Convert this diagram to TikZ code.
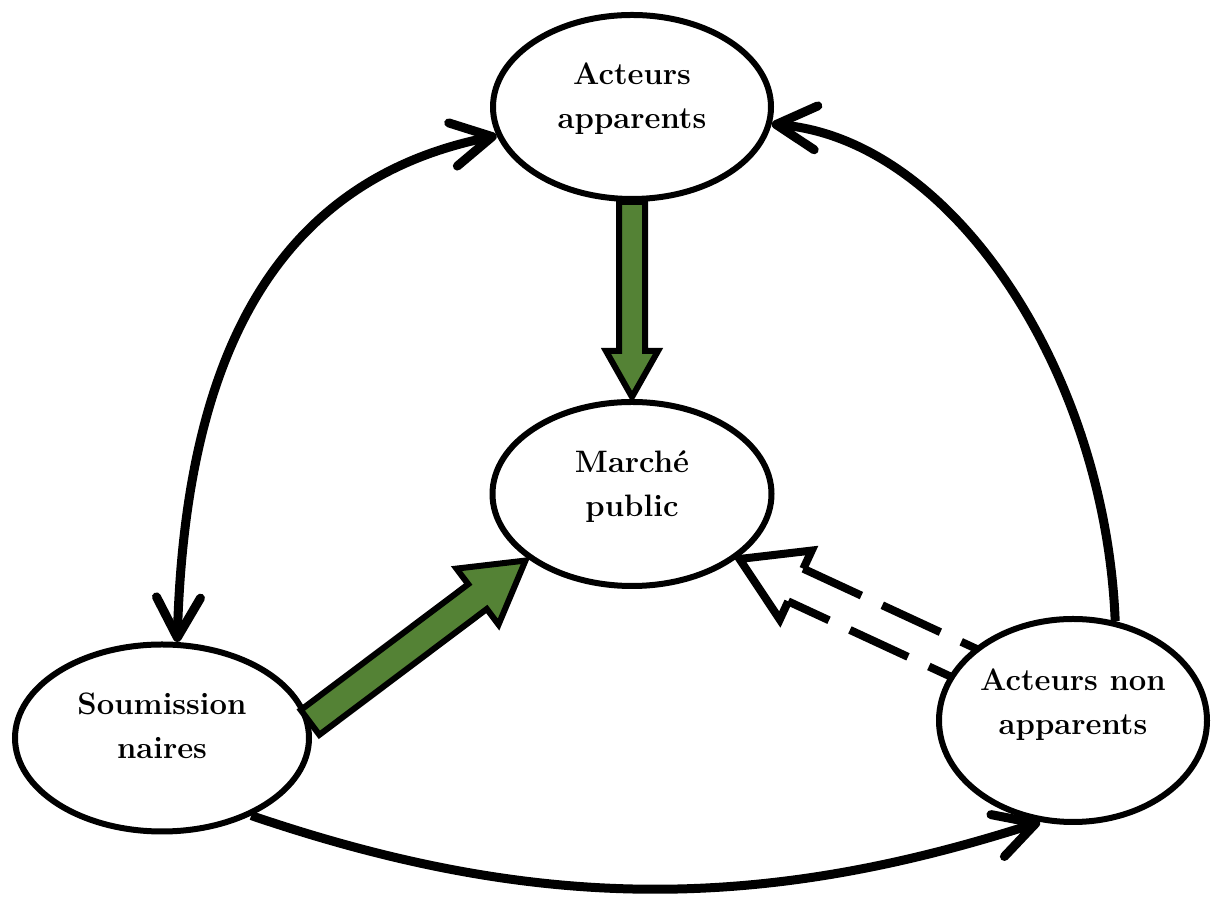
\documentclass[tikz,border=0pt]{standalone}
\usetikzlibrary{calc,arrows.meta,shapes.geometric}
\definecolor{grn}{RGB}{84,130,53}
\pgfdeclarelayer{bg}
\pgfsetlayers{bg,main}
% solid block arrow: #1 name, #2 style, #3 from, #4 to, #5 half shaft, #6 half head, #7 head length
\newcommand\blockarr[7]{%
  \coordinate (#1-h) at ($(#4)!#7!(#3)$);
  \path[#2] ($(#3)!#5!90:(#4)$) -- ($(#1-h)!#5!90:(#4)$) -- ($(#1-h)!#6!90:(#4)$) -- (#4)
    -- ($(#1-h)!#6!-90:(#4)$) -- ($(#1-h)!#5!-90:(#4)$) -- ($(#3)!#5!-90:(#4)$) -- cycle;
}
% hollow dashed block arrow: #1 name, #2 from, #3 to, #4 half shaft, #5 half head, #6 head length
\newcommand\hollowarr[6]{%
  \coordinate (#1-h) at ($(#3)!#6!(#2)$);
  \coordinate (#1-un) at ($(#1-h)!#4!-90:(#3)$);
  \coordinate (#1-ln) at ($(#1-h)!#4!90:(#3)$);
  \draw[darrow] (#1-un) -- ($(#2)!#4!-90:(#3)$);
  \draw[darrow, dash phase=19pt] (#1-ln) -- ($(#2)!#4!90:(#3)$);
  \draw[dhead] (#1-ln) -- ($(#1-h)!#5!90:(#3)$) -- (#3) -- ($(#1-h)!#5!-90:(#3)$) -- (#1-un);
}
\tikzset{
  bub/.style={ellipse, draw, line width=6pt, fill=white, inner sep=0pt, align=center,
    font=\fontsize{31}{44}\selectfont\bfseries},
  conn/.style={line width=9pt},
  barb/.tip={Straight Barb[length=40pt,width=44pt,line cap=round,line join=round]},
  garrow/.style={draw, line width=6pt, fill=grn, line join=miter},
  darrow/.style={line width=8pt, dash pattern=on 64pt off 23pt},
  dhead/.style={line width=8pt, line join=miter},
}
\begin{document}
\begin{tikzpicture}[x=1pt,y=1pt]
\useasboundingbox (0,0) rectangle (1211,899);
% ellipses
\node[bub, minimum width=278pt, minimum height=184pt, text depth=22pt] (aa) at (632,792) {Acteurs\\apparents};
\node[bub, minimum width=279pt, minimum height=184pt, text depth=21pt] (mp) at (632,405) {March\'e\\public};
\node[bub, minimum width=294pt, minimum height=187pt, text depth=24pt] (sou) at (162,161) {Soumission\\naires};
\node[bub, minimum width=268pt, minimum height=203pt, text depth=38pt] (nap) at (1073,178.5) {Acteurs non\\apparents};
% dashed hollow arrow, below the ellipses
\begin{pgfonlayer}{bg}
  \coordinate (dtip) at ($(mp.center)+(107.5,-65)$);
  \coordinate (dtail) at ($(nap.center)+(-97,52)$);
  \hollowarr{d}{dtail}{dtip}{18pt}{38pt}{62pt}
\end{pgfonlayer}
% curved connectors
\draw[conn, {barb}-{barb}] (aa.192) .. controls +(-225,-45) and +(8,280) .. (sou.81);
\draw[conn, -{barb}] (nap.67) .. controls +(-10,250) and +(180,-15) .. (aa.-7);
\draw[conn, -{barb}] (sou.-41) .. controls +(285,-97) and +(-280,-90) .. (nap.-108);
% green block arrows
\coordinate (g1b) at ($(mp.north)+(0,2)$);
\blockarr{g1}{garrow}{aa.south}{g1b}{13pt}{26pt}{46pt}
\coordinate (g2b) at ($(mp.212)!-3pt!(mp.center)$);
\blockarr{g2}{garrow}{sou.6}{g2b}{15.5pt}{35pt}{60pt}
\end{tikzpicture}
\end{document}
